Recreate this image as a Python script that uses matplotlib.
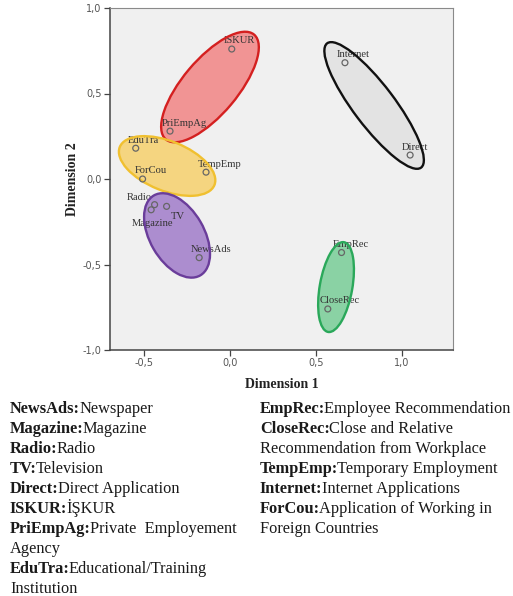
import matplotlib
matplotlib.use("Agg")
import matplotlib.pyplot as plt
from matplotlib.patches import Ellipse
from matplotlib.ticker import FuncFormatter, MultipleLocator

# job search channels, 2-D MDS coordinates
labels = ["ISKUR", "PriEmpAg", "EduTra", "ForCou", "TempEmp", "Internet", "Direct",
          "Radio", "Magazine", "TV", "NewsAds", "EmpRec", "CloseRec"]
dim1 = [0.01, -0.35, -0.55, -0.51, -0.14, 0.67, 1.05,
        -0.44, -0.46, -0.37, -0.18, 0.65, 0.57]
dim2 = [0.76, 0.28, 0.18, 0.00, 0.04, 0.68, 0.14,
        -0.15, -0.18, -0.16, -0.46, -0.43, -0.76]

# cluster ellipses: centre, full width, full height, angle
clu_x = [-0.117, 0.84, -0.367, -0.309, 0.618]
clu_y = [0.538, 0.43, 0.076, -0.330, -0.632]
clu_w = [0.80, 0.91, 0.595, 0.54, 0.533]
clu_h = [0.32, 0.24, 0.29, 0.316, 0.19]
clu_ang = [50, -53, -22, -60, 80]
clu_face = ["#f28a8a", "#e2e2e2", "#f6d374", "#a582cc", "#7fcf9c"]
clu_edge = ["#d42020", "#111111", "#f0c030", "#6a3d9a", "#2aa85a"]

left_lines = [("NewsAds:", "Newspaper"), ("Magazine:", "Magazine"), ("Radio:", "Radio"),
              ("TV:", "Television"), ("Direct:", "Direct Application"), ("ISKUR:", "İŞKUR"),
              ("PriEmpAg:", "Private  Employement"), ("", "Agency"),
              ("EduTra:", "Educational/Training"), ("", "Institution")]
right_lines = [("EmpRec:", "Employee Recommendation"), ("CloseRec:", "Close and Relative"),
               ("", "Recommendation from Workplace"), ("TempEmp:", "Temporary Employment"),
               ("Internet:", "Internet Applications"), ("ForCou:", "Application of Working in"),
               ("", "Foreign Countries")]

# label offsets (points) relative to each marker
offs = {"Radio": (-20, 3), "Magazine": (-14, -12), "TV": (3, -9)}

W, H = 513, 596
fig = plt.figure(figsize=(W / 100, H / 100), dpi=100)
ax = fig.add_axes([110 / W, 1 - 350 / H, 343 / W, 342 / H])
ax.set_facecolor("#f0f0f0")
ax.set_xlim(-0.7, 1.3)
ax.set_ylim(-1.0, 1.0)

for cx, cy, w, h, a, fc, ec in zip(clu_x, clu_y, clu_w, clu_h, clu_ang, clu_face, clu_edge):
    ax.add_patch(Ellipse((cx, cy), w, h, angle=a, facecolor=fc, alpha=0.9,
                         edgecolor="none", zorder=1))
    ax.add_patch(Ellipse((cx, cy), w, h, angle=a, facecolor="none",
                         edgecolor=ec, lw=1.7, zorder=4))

for x, y, lab in zip(dim1, dim2, labels):
    dx, dy = offs.get(lab, (-6, 4))
    ax.annotate(lab, (x, y), xytext=(dx, dy), textcoords="offset points",
                fontsize=7.6, family="Liberation Serif", color="#333333", zorder=2)

ax.scatter(dim1, dim2, s=18, facecolors="none", edgecolors="#666666", linewidths=0.9, zorder=5)

ax.xaxis.set_major_locator(MultipleLocator(0.5))
ax.yaxis.set_major_locator(MultipleLocator(0.5))
fmt = FuncFormatter(lambda v, p: f"{v:.1f}".replace(".", ","))
ax.xaxis.set_major_formatter(fmt)
ax.yaxis.set_major_formatter(fmt)
ax.tick_params(direction="out", length=4, width=0.9, labelsize=7, colors="#444444",
               labelcolor="#555555", pad=2)
for s in ["top", "right"]:
    ax.spines[s].set_color("#8a8a8a")
for s in ["left", "bottom"]:
    ax.spines[s].set_color("#444444")
    ax.spines[s].set_linewidth(1.1)

ax.set_xlabel("Dimension 1", family="Liberation Serif", fontweight="bold", fontsize=10,
              color="#222222", labelpad=7)
ax.set_ylabel("Dimension 2", family="Liberation Serif", fontweight="bold", fontsize=10,
              color="#222222", labelpad=3)

# key to abbreviations, bold code followed by plain description
renderer = fig.canvas.get_renderer()


def write_block(lines, x0, y0, step=20):
    for i, (key, desc) in enumerate(lines):
        y = 1 - (y0 + i * step) / H
        xx = x0 / W
        if key:
            t = fig.text(xx, y, key, fontsize=11.8, family="Liberation Serif",
                         fontweight="bold", color="#1a1a1a", va="baseline")
            bb = t.get_window_extent(renderer)
            xx = (bb.x1 - 1) / W
        fig.text(xx, y, desc, fontsize=11.8, family="Liberation Serif",
                 color="#1a1a1a", va="baseline")


write_block(left_lines, 10, 413)
write_block(right_lines, 260, 413)

fig.savefig("out.png", dpi=100)
